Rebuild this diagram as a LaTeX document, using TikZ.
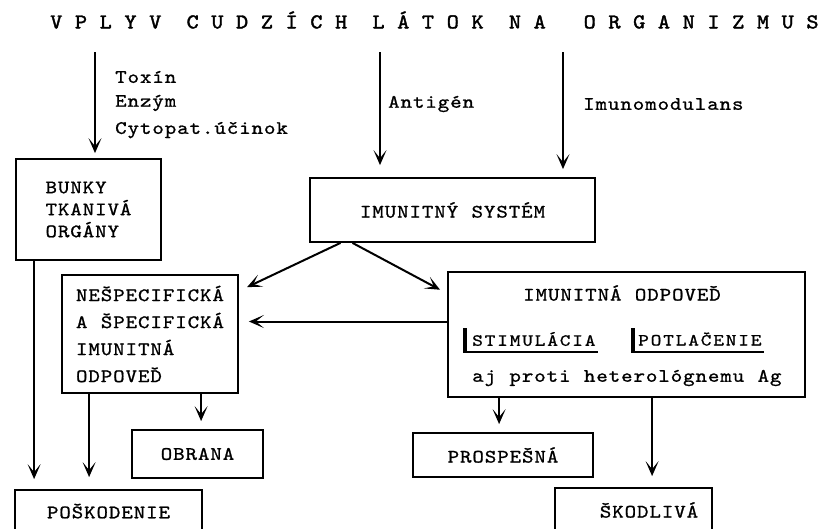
\documentclass[tikz,border=0pt]{standalone}
\usepackage{fontspec}
\usetikzlibrary{arrows.meta,calc}
\newfontfamily\twA{lmmono10-regular.otf}[FakeStretch=1.15,LetterSpace=4.9,WordSpace=1.08,FakeBold=1.0]
\newfontfamily\twS{lmmono10-regular.otf}[FakeStretch=1.2,LetterSpace=10.6,WordSpace=1.17,FakeBold=1.0]
\newfontfamily\twT{lmmono10-regular.otf}[FakeStretch=1.1,LetterSpace=1.2,WordSpace=1.02,FakeBold=1.8]
\newcommand{\twbase}{\twA\fontsize{19}{25}\selectfont}
\newcommand{\twsmall}{\twS\fontsize{17}{25}\selectfont}
\newcommand{\twtitle}{\twT\fontsize{21}{25}\selectfont}
\begin{document}
\begin{tikzpicture}[x=1pt,y=-1pt,
  font=\twbase,
  box/.style={draw,line width=1.8pt,rectangle,inner sep=0pt,align=left},
  lbl/.style={inner sep=0pt,anchor=west},
  arr/.style={line width=2pt,-{Stealth[length=15pt,width=13pt,inset=8pt]}},
  bar/.style={line width=3.5pt},
  uline/.style={line width=1.4pt}]
\useasboundingbox (0,0) rectangle (827,528);
\fill[white] (0,0) rectangle (827,528);
\clip (0,0) rectangle (827,528);

% title
\node[lbl,font=\twtitle] (title) at (50,20) {V~P~L~Y~V~~C~U~D~Z~Í~C~H~~L~Á~T~O~K~~N~A~~~O~R~G~A~N~I~Z~M~U~S};
\coordinate (s1) at (95,52);
\coordinate (s2) at (380,52);
\coordinate (s3) at (563,52);

% labels
\node[lbl] (toxin) at (115,77) {Toxín};
\node[lbl] (enzym) at (115,103) {Enzým};
\node[lbl] (cyto) at (115,130) {Cytopat.účinok};
\node[lbl] (antigen) at (388,104) {Antigén};
\node[lbl] (imumod) at (583,104) {Imunomodulans};

% boxes
\node[box,minimum width=145pt,minimum height=101pt,font=\twA\fontsize{19}{22}\selectfont] (bunky) at (88.5,209.5) {BUNKY\\TKANIVÁ\\ORGÁNY};
\node[box,minimum width=285pt,minimum height=64pt] (imun) at (452.5,210) {IMUNITNÝ SYSTÉM};
\node[box,minimum width=176pt,minimum height=118pt,font=\twA\fontsize{19}{27}\selectfont] (nesp) at (150,334) {NEŠPECIFICKÁ\\A ŠPECIFICKÁ\\IMUNITNÁ\\ODPOVEĎ};
\node[box,minimum width=357pt,minimum height=125pt] (odp) at (626.5,334.5) {};
\node[inner sep=0pt] (odptitle) at (622,293) {IMUNITNÁ ODPOVEĎ};
\node[lbl,font=\twsmall] (stim) at (472,339) {STIMULÁCIA};
\node[lbl,font=\twsmall] (potl) at (638,339) {POTLAČENIE};
\node[lbl] (aj) at (472,378) {aj proti heterológnemu Ag};
\node[box,minimum width=131pt,minimum height=48pt] (obrana) at (197.5,454) {OBRANA};
\node[box,minimum width=180pt,minimum height=44pt] (prosp) at (503,455) {PROSPEŠNÁ};
\node[box,minimum width=187pt,minimum height=42pt] (posk) at (108.5,511) {POŠKODENIE};
\node[box,minimum width=157pt,minimum height=44pt] (skod) at (633.5,510) {\hspace*{31pt}ŠKODLIVÁ};

% underline bars
\draw[bar] ($(stim.west)+(-7,-11)$) -- ($(stim.west)+(-7,14)$);
\draw[uline] ($(stim.west)+(-8.5,13)$) -- ($(stim.east)+(2,13)$);
\draw[bar] ($(potl.west)+(-5,-11)$) -- ($(potl.west)+(-5,14)$);
\draw[uline] ($(potl.west)+(-6.5,13)$) -- ($(potl.east)+(2,13)$);

% arrows from title
\draw[arr,shorten >=5pt] (s1) -- (s1 |- bunky.north);
\draw[arr,shorten >=12pt] (s2) -- (s2 |- imun.north);
\draw[arr,shorten >=8pt] (s3) -- (s3 |- imun.north);

% arrows from immune system
\draw[arr,shorten >=9pt] ($(imun.south)+(-112,0)$) -- ($(nesp.east)+(0,-43)$);
\draw[arr,shorten >=8pt] ($(imun.south)+(-100,0)$) -- ($(odp.west)+(0,-41)$);
\draw[arr,shorten >=10pt] ($(odp.west)+(0,-13)$) coordinate (h) -- (h -| nesp.east);

% downward arrows
\coordinate (b1) at ($(bunky.south west)+(19,0)$);
\coordinate (b2) at ($(nesp.south west)+(28,0)$);
\coordinate (b3) at ($(nesp.south west)+(140,0)$);
\coordinate (b4) at ($(odp.south west)+(52,0)$);
\coordinate (b5) at ($(odp.south west)+(205,0)$);
\draw[arr,shorten >=10pt] (b1) -- (b1 |- posk.north);
\draw[arr,shorten >=12pt] (b2) -- (b2 |- posk.north);
\draw[arr,shorten >=8pt] (b3) -- (b3 |- obrana.north);
\draw[arr,shorten >=8pt] (b4) -- (b4 |- prosp.north);
\draw[arr,shorten >=11pt] (b5) -- (b5 |- skod.north);
\end{tikzpicture}
\end{document}
